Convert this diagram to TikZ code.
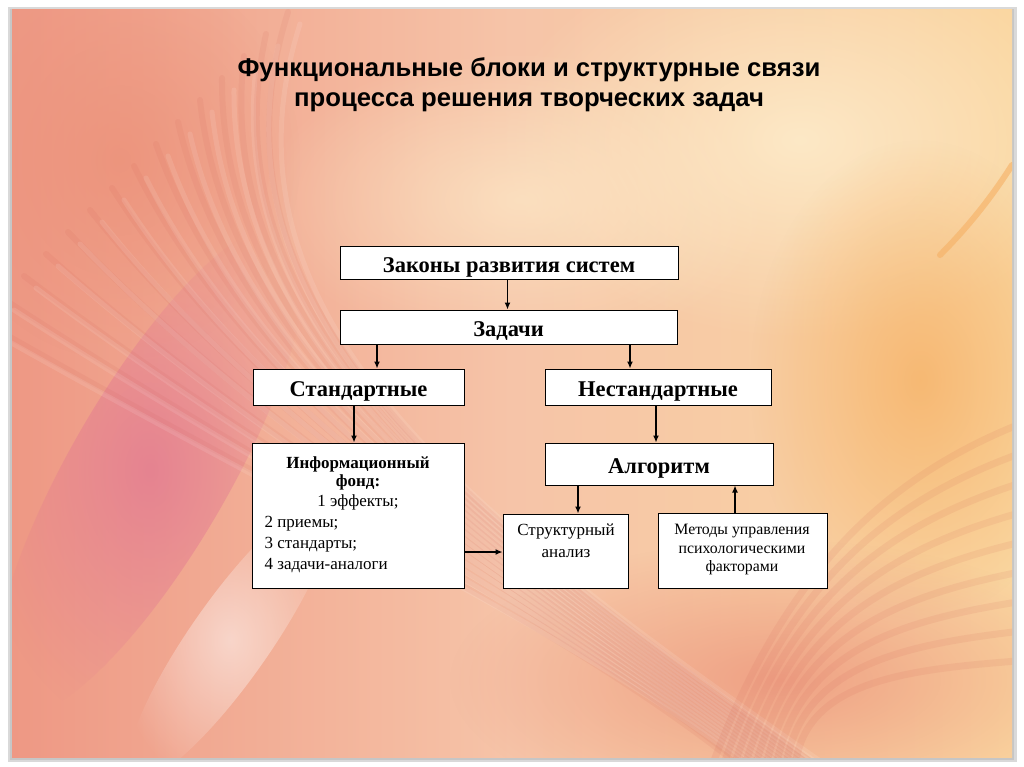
\documentclass[tikz,border=0pt]{standalone}
\usepackage{fontspec}
\setmainfont{Liberation Serif}
\newfontfamily\titlefont{Liberation Sans}
\usetikzlibrary{arrows.meta,fadings}
\definecolor{bgA}{RGB}{238,152,132}
\definecolor{bgB}{RGB}{246,196,168}
\definecolor{bgC}{RGB}{250,214,160}
\definecolor{pinkc}{RGB}{226,120,146}
\definecolor{creamc}{RGB}{253,234,200}
\definecolor{orc}{RGB}{246,176,100}
\definecolor{salm}{RGB}{236,146,122}
\definecolor{redl}{RGB}{205,90,80}
\tikzfading[name=blob, inner color=transparent!0, outer color=transparent!100]
\tikzset{
  box/.style={draw=black, line width=1pt, fill=white, inner sep=0pt},
  arr/.style={-{Latex[length=7pt,width=6pt]}, line width=1.3pt, black},
  big/.style={font=\fontsize{22.5}{26}\selectfont\bfseries, text height=19pt, text depth=0pt},
  small/.style={font=\fontsize{17}{20}\selectfont},
  streak/.style={line cap=round},
}
\begin{document}
\begin{tikzpicture}[x=1pt,y=-1pt]
\useasboundingbox (0,0) rectangle (1024,767);
\fill[white] (0,0) rectangle (1024,767);
\fill[gray!30] (8,7) rectangle (1017,762);
\fill[gray!45] (10,9) rectangle (1014,760);
\begin{scope}
\clip (12,10) rectangle (1012,757);
\shade[left color=bgA, right color=bgC, middle color=bgB] (12,10) rectangle (1012,757);
\fill[creamc, path fading=blob, fill opacity=0.95] (800,140) ellipse (300 and 200);
\fill[creamc, path fading=blob, fill opacity=0.7] (520,200) ellipse (260 and 150);
\fill[orc, path fading=blob, fill opacity=0.75] (920,380) ellipse (170 and 240);
\fill[salm, path fading=blob, fill opacity=0.8] (120,160) ellipse (180 and 200);
\fill[pinkc, path fading=blob, fill opacity=0.75, rotate around={-30:(150,470)}] (150,470) ellipse (80 and 280);
\fill[salm, path fading=blob, fill opacity=0.75] (780,680) ellipse (330 and 140);
\fill[white, path fading=blob, fill opacity=0.5, rotate around={-35:(230,640)}] (230,640) ellipse (40 and 170);
\foreach \a in {0,...,14}{
  \draw[streak, redl, opacity=0.09, line width=6pt]
    (780+\a*6,800) .. controls (600-\a*8,640-\a*8) and (330-\a*10,520-\a*14) .. (-20+\a*22,320-\a*22);
  \draw[streak, white, opacity=0.1, line width=5pt]
    (792+\a*6,800) .. controls (612-\a*8,650-\a*8) and (342-\a*10,530-\a*14) .. (-8+\a*22,332-\a*22);
}
\foreach \a in {0,...,8}{
  \draw[streak, redl, opacity=0.1, line width=7pt]
    (1030,420+\a*30) .. controls (900,470+\a*25) and (780,560+\a*15) .. (700+\a*12,800);
}
\draw[streak, orc, opacity=0.6, line width=6pt] (1012,165) .. controls (990,200) and (965,230) .. (940,255);
\end{scope}

\node[font=\titlefont\fontsize{25.7}{30}\selectfont\bfseries, align=center] (title) at (529,85)
  {Функциональные блоки и структурные связи\\процесса решения творческих задач};

\node[box, minimum width=338pt, minimum height=33pt, big] (zak) at (509,262.5) {Законы развития систем};
\node[box, minimum width=337pt, minimum height=34pt, big] (zad) at (508.5,327) {Задачи};
\node[box, minimum width=211pt, minimum height=36pt, big] (std) at (358.5,387) {Стандартные};
\node[box, minimum width=226pt, minimum height=36pt, big] (nst) at (658,387) {Нестандартные};
\node[box, minimum width=212pt, minimum height=145pt] (inf) at (358,515.5) {};
\node[box, minimum width=228pt, minimum height=42pt, big] (alg) at (659,464) {Алгоритм};
\node[box, minimum width=125pt, minimum height=74pt] (str) at (565.5,551) {};
\node[box, minimum width=169pt, minimum height=75pt] (met) at (742.5,550.5) {};

\node[font=\fontsize{17}{18.5}\selectfont\bfseries, align=center] (infT) at (358,473.5) {Информационный\\фонд:};
\node[small] (inf1) at (358,502.5) {1 эффекты;};
\node[small, anchor=west] (inf2) at (261,523.5) {2 приемы;};
\node[small, anchor=west] (inf3) at (261,544.5) {3 стандарты;};
\node[small, anchor=west] (inf4) at (261,565.5) {4 задачи-аналоги};
\node[font=\fontsize{17}{22}\selectfont, align=center] (strT) at (566,541) {Структурный\\анализ};
\node[font=\fontsize{15.8}{18.5}\selectfont, align=center] (metT) at (742,550) {Методы управления\\психологическими\\факторами};

\draw[arr] ([xshift=-1.5pt]zak.south) -- ([xshift=-1.5pt]zak.south |- zad.north);
\draw[arr] ([xshift=-131.5pt]zad.south) -- ([xshift=-131.5pt]zad.south |- std.north);
\draw[arr] ([xshift=121.5pt]zad.south) -- ([xshift=121.5pt]zad.south |- nst.north);
\draw[arr] ([xshift=-4.5pt]std.south) -- ([xshift=-4.5pt]std.south |- inf.north);
\draw[arr] ([xshift=-2pt]nst.south) -- ([xshift=-2pt]nst.south |- alg.north);
\draw[arr] ([xshift=-81pt]alg.south) -- ([xshift=-81pt]alg.south |- str.north);
\draw[arr] ([xshift=-7.5pt]met.north) -- ([xshift=-7.5pt]met.north |- alg.south);
\draw[arr] ([yshift=-36.5pt]inf.east) -- ([yshift=-36.5pt]inf.east -| str.west);
\end{tikzpicture}
\end{document}
